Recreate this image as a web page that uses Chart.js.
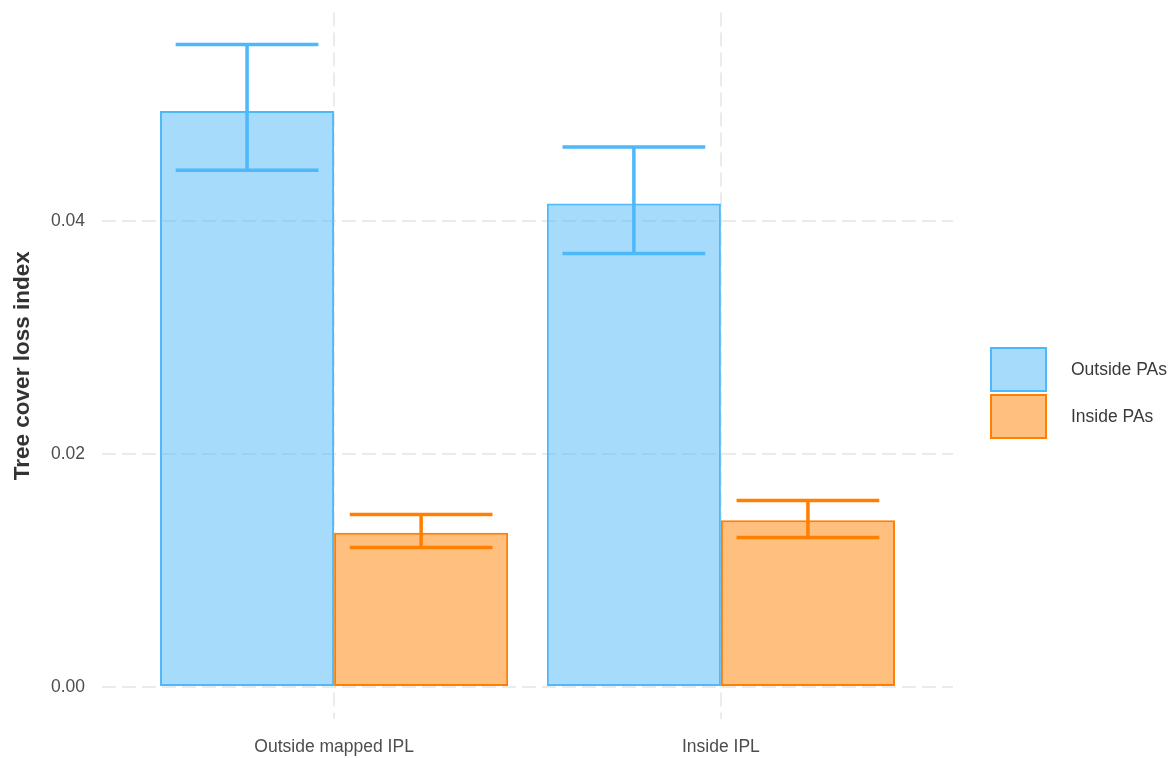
<!DOCTYPE html>
<html lang="en">
<head>
<meta charset="UTF-8" />
<title>Tree cover loss index</title>
<script src="https://cdn.jsdelivr.net/npm/chart.js@4"></script>
<style>
  html, body { margin: 0; padding: 0; background: #fff; }
</style>
</head>
<body>
<canvas id="myChart" width="1172" height="758"></canvas>
<script>
// values
const groups = ['Outside mapped IPL', 'Inside IPL'];
const seriesNames = ['Outside PAs', 'Inside PAs'];
const outsideMean = [0.04944, 0.04149];
const outsideLow = [0.04435, 0.03719];
const outsideHigh = [0.05513, 0.04635];
const insideMean = [0.01324, 0.01431];
const insideLow = [0.01196, 0.01282];
const insideHigh = [0.01479, 0.01599];
const yTicks = [0, 0.02, 0.04];

const blue = 'rgb(77, 184, 250)';
const blueFill = 'rgba(77, 184, 250, 0.5)';
const orange = 'rgb(255, 127, 0)';
const orangeFill = 'rgba(255, 127, 0, 0.5)';
const gridColor = '#EBEBEB';
const textColor = '#4D4D4D';

Chart.defaults.font.family = '"Liberation Sans", Arial, sans-serif';

// ggplot style 5% expansion of the y range
const yTop = Math.max(...outsideHigh, ...insideHigh);
const yPad = yTop * 0.05;

// error bars on top of the bars
const errorBars = {
  id: 'errorBars',
  afterDatasetsDraw(chart) {
    const ctx = chart.ctx;
    const yScale = chart.scales.y;
    chart.data.datasets.forEach((ds, di) => {
      const meta = chart.getDatasetMeta(di);
      meta.data.forEach((bar, i) => {
        const x = bar.x;
        const half = bar.width * 0.41;
        const yLo = yScale.getPixelForValue(ds.lo[i]);
        const yHi = yScale.getPixelForValue(ds.hi[i]);
        ctx.save();
        ctx.strokeStyle = ds.borderColor;
        ctx.lineWidth = 3.5;
        ctx.beginPath();
        ctx.moveTo(x, yLo);
        ctx.lineTo(x, yHi);
        ctx.moveTo(x - half, yHi);
        ctx.lineTo(x + half, yHi);
        ctx.moveTo(x - half, yLo);
        ctx.lineTo(x + half, yLo);
        ctx.stroke();
        ctx.restore();
      });
    });
  }
};

// legend drawn like ggplot keys: big boxes, text to the right
const legendKeys = {
  id: 'legendKeys',
  afterDraw(chart) {
    const ctx = chart.ctx;
    const left = chart.chartArea.right + 37;
    let top = 347;
    chart.data.datasets.forEach(ds => {
      ctx.save();
      ctx.fillStyle = ds.backgroundColor;
      ctx.strokeStyle = ds.borderColor;
      ctx.lineWidth = 2;
      ctx.fillRect(left, top, 57, 45);
      ctx.strokeRect(left + 1, top + 1, 55, 43);
      ctx.fillStyle = '#3A3A3A';
      ctx.font = '17.5px "Liberation Sans", Arial, sans-serif';
      ctx.textBaseline = 'middle';
      ctx.fillText(ds.label, left + 81, top + 23);
      ctx.restore();
      top += 47;
    });
  }
};

const ctx = document.getElementById('myChart').getContext('2d');
const myChart = new Chart(ctx, {
  type: 'bar',
  data: {
    datasets: [
      {
        label: seriesNames[0],
        data: outsideMean.map((v, i) => ({ x: i + 1, y: v })),
        lo: outsideLow,
        hi: outsideHigh,
        backgroundColor: blueFill,
        borderColor: blue,
        borderWidth: 2,
        borderSkipped: false,
        categoryPercentage: 0.9,
        barPercentage: 1
      },
      {
        label: seriesNames[1],
        data: insideMean.map((v, i) => ({ x: i + 1, y: v })),
        lo: insideLow,
        hi: insideHigh,
        backgroundColor: orangeFill,
        borderColor: orange,
        borderWidth: 2,
        borderSkipped: false,
        categoryPercentage: 0.9,
        barPercentage: 1
      }
    ]
  },
  options: {
    responsive: false,
    animation: false,
    layout: { padding: { top: 12.5, right: 219, bottom: 0, left: 0 } },
    plugins: {
      legend: { display: false },
      tooltip: { enabled: false }
    },
    scales: {
      x: {
        type: 'linear',
        bounds: 'data',
        offset: false,
        min: 0.4,
        max: 2.6,
        afterBuildTicks: s => { s.ticks = groups.map((g, i) => ({ value: i + 1 })); },
        afterFit: s => { s.height = 39; },
        ticks: {
          callback: v => groups[Math.round(v) - 1],
          color: textColor,
          font: { size: 17.5 },
          padding: 18,
          maxRotation: 0
        },
        grid: { color: gridColor, lineWidth: 2, drawTicks: false, offset: false },
        border: { display: false, dash: [14, 6] }
      },
      y: {
        type: 'linear',
        bounds: 'data',
        min: -yPad,
        max: yTop + yPad,
        afterBuildTicks: s => { s.ticks = yTicks.map(v => ({ value: v })); },
        afterFit: s => {
          s.width = 102;
          s.paddingTop = 0;
          s.paddingBottom = 0;
        },
        ticks: {
          callback: v => v.toFixed(2),
          color: textColor,
          font: { size: 17.5 },
          padding: 17
        },
        grid: { color: gridColor, lineWidth: 2, drawTicks: false },
        border: { display: false, dash: [14, 6] },
        title: {
          display: true,
          text: 'Tree cover loss index',
          color: '#333333',
          font: { size: 22.5, weight: 'bold' },
          padding: { top: 9, bottom: 0 }
        }
      }
    }
  },
  plugins: [errorBars, legendKeys]
});
</script>
</body>
</html>
